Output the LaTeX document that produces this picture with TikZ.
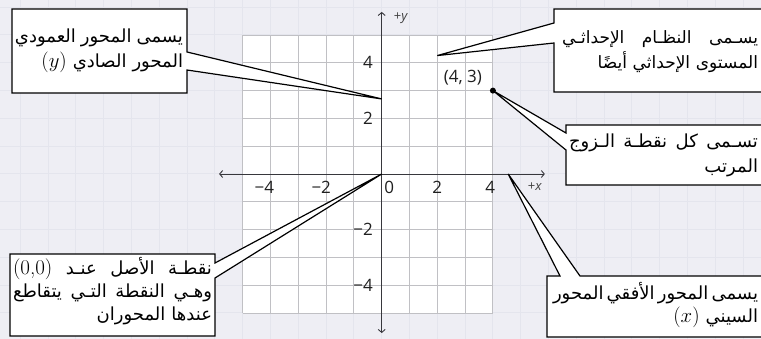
\documentclass[tikz,border=0pt]{standalone}
\usepackage{fontspec}
\setsansfont{Open Sans}
\newfontfamily\arabicfont[Script=Arabic]{DejaVu Sans}
\TeXXeTstate=1
\usetikzlibrary{arrows.meta,calc}

\definecolor{pagebg}{RGB}{238,238,244}
\definecolor{pagegrid}{RGB}{228,229,237}
\definecolor{gridgray}{RGB}{192,192,196}
\definecolor{axisgray}{RGB}{55,55,60}

\newcommand{\latinpart}[1]{\beginL{\rmfamily\fontsize{21}{25}\selectfont #1}\endL}

\tikzset{
  pageline/.style={pagegrid, line width=1pt},
  gridline/.style={gridgray, line width=0.9pt},
  axisline/.style={axisgray, line width=0.9pt,
    {Straight Barb[length=3pt,width=7pt]}-{Straight Barb[length=3pt,width=7pt]}},
  callout/.style={fill=white, draw=black, line width=1.2pt},
  artext/.style={font=\arabicfont\fontsize{18}{25}\selectfont, inner sep=0pt, align=right},
  ticklab/.style={font=\sffamily\fontsize{17}{19}\selectfont, text=black!88, inner sep=0pt},
  axlab/.style={font=\sffamily\fontsize{13}{15}\selectfont, text=black!75, inner sep=0pt},
}

\begin{document}
\begin{tikzpicture}[x=1pt, y=-1pt]
  \useasboundingbox (0,0) rectangle (761,339);
  \clip (0,0) rectangle (761,339);
  \fill[pagebg] (0,0) rectangle (761,339);
  \foreach \i in {-14,...,14}
    \draw[pageline] (381.7+27.8*\i,0) -- (381.7+27.8*\i,339);
  \foreach \j in {-7,...,7}
    \draw[pageline] (0,174+27.8*\j) -- (761,174+27.8*\j);

  % the plane, one unit = 27.8px
  \begin{scope}[shift={(381.7,174)}, x=27.8pt, y=27.8pt]
    \fill[white] (-5,-5) rectangle (4,5);
    \foreach \k in {-5,...,4}
      \draw[gridline] (\k,-5) -- (\k,5);
    \foreach \k in {-5,...,5}
      \draw[gridline] (-5,\k) -- (4,\k);
    \draw[axisline] (-5.85,0) -- (5.87,0);
    \draw[axisline] (0,-5.72) -- (0,5.83);
    \node[axlab] (xname) at (5.51,-0.47) {+\textit{x}};
    \node[axlab] (yname) at (0.69,5.61) {+\textit{y}};
    \node[ticklab] (xm4) at (-4.05,-0.49) {\llap{−}4};
    \node[ticklab] (xm2) at (-2,-0.49) {\llap{−}2};
    \node[ticklab] (x0) at (0.27,-0.49) {0};
    \node[ticklab] (x2) at (2,-0.49) {2};
    \node[ticklab] (x4) at (3.9,-0.49) {4};
    \node[ticklab, anchor=east] (y4) at (-0.31,4) {4};
    \node[ticklab, anchor=east] (y2) at (-0.31,2) {2};
    \node[ticklab, anchor=east] (ym2) at (-0.31,-2) {−2};
    \node[ticklab, anchor=east] (ym4) at (-0.31,-4) {−4};
    \node[ticklab] (pairlab) at (2.92,3.47) {(4, 3)};
    \coordinate (O) at (0,0);
    \coordinate (P) at (4,3);
    \coordinate (ytip) at (0,2.7);
    \coordinate (gtip) at (2,4.26);
    \coordinate (xtip) at (4.55,0);
  \end{scope}

  % callouts
  \filldraw[callout] (12,9) -- (187,9) -- (187,52) -- (ytip) -- (187,70) -- (187,93) -- (12,93) -- cycle;
  \filldraw[callout] (554,9) -- (770,9) -- (770,92) -- (554,92) -- (554,43) -- (gtip) -- (554,23) -- cycle;
  \filldraw[callout] (566,125) -- (770,125) -- (770,185) -- (566,185) -- (566,150) -- (P) -- (566,133) -- cycle;
  \filldraw[callout] (10,254) -- (215,254) -- (215,263) -- (O) -- (215,278) -- (215,336) -- (10,336) -- cycle;
  \filldraw[callout] (547,276) -- (560,276) -- (xtip) -- (580,276) -- (770,276) -- (770,337) -- (547,337) -- cycle;
  \fill[black] (P) circle (3pt);

  \node[artext, text width=168pt] (ynote) at (99,51)
    {\beginR يسمى\hfill المحور\hfill العمودي\endR\\
     \beginR المحور الصادي \latinpart{$(y)$}\endR};
  \node[artext, text width=196pt, font=\arabicfont\fontsize{17}{25}\selectfont] (planenote) at (660,52)
    {\beginR يسـمى\hfill النظـام\hfill الإحداثـي\endR\\
     \beginR المستوى الإحداثي أيضًا\endR};
  \node[artext, text width=189pt] (pairnote) at (663.5,155)
    {\beginR تسـمى\hfill كل\hfill نقطـة\hfill الـزوج\endR\\
     \beginR المرتب\endR};
  \node[artext, text width=199pt, font=\arabicfont\fontsize{18}{23}\selectfont] (originnote) at (112.5,291)
    {\beginR نقطـة\hfill الأصل\hfill عنـد\hfill \latinpart{(0,0)}\endR\\
     \beginR وهـي\hfill النقطة\hfill التـي\hfill يتقاطع\endR\\
     \beginR عندها المحوران\endR};
  \node[artext, text width=205pt, font=\arabicfont\fontsize{18}{23}\selectfont] (xnote) at (655.5,305)
    {\beginR يسمى\hfill المحور\hfill الأفقي\hfill المحور\endR\\
     \beginR السيني \latinpart{$(x)$}\endR\hspace*{37pt}};
\end{tikzpicture}
\end{document}
